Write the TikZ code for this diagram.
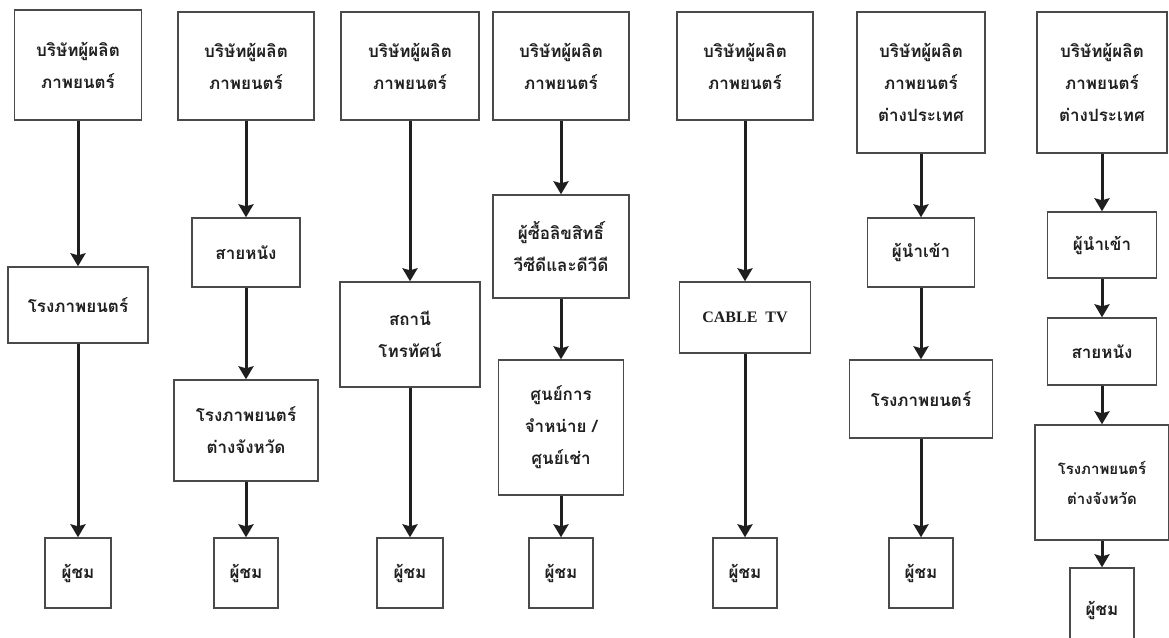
\documentclass[tikz,border=0pt]{standalone}
\usepackage{fontspec}
\usepackage{xcolor}
\usepackage{tikz}
\usetikzlibrary{arrows.meta}
\newfontfamily\thaifont[Script=Thai]{Loma}
\newfontfamily\latinfont{Liberation Serif}
\definecolor{INK}{HTML}{1F1F1F}
\definecolor{EDGE}{HTML}{4A4A4A}

\begin{document}
\begin{tikzpicture}[
  x=1pt, y=-1pt,
  font=\thaifont\bfseries\fontsize{17pt}{32pt}\selectfont,
  box/.style={draw=EDGE, line width=1.4pt, align=center, inner sep=2pt, text=INK},
  arr/.style={-{Stealth[length=13pt, width=15pt, inset=2pt]}, draw=INK, line width=3pt},
]
\useasboundingbox (0,0) rectangle (1169,637);

% column 1
\node[box, minimum width=127, minimum height=110] (prodA) at (78, 65) {บริษัทผู้ผลิต\\ภาพยนตร์};
\node[box, minimum width=140, minimum height=76] (cinemaA) at (78, 305) {โรงภาพยนตร์};
\node[box, minimum width=66, minimum height=70] (viewA) at (78, 573) {ผู้ชม};
\draw[arr] (prodA.south) -- (cinemaA.north);
\draw[arr] (cinemaA.south) -- (viewA.north);

% column 2
\node[box, minimum width=136, minimum height=108] (prodB) at (246, 66) {บริษัทผู้ผลิต\\ภาพยนตร์};
\node[box, minimum width=108, minimum height=69] (lineB) at (246, 252.5) {สายหนัง};
\node[box, minimum width=144, minimum height=101] (provB) at (246, 430.5) {โรงภาพยนตร์\\ต่างจังหวัด};
\node[box, minimum width=64, minimum height=70] (viewB) at (246, 573) {ผู้ชม};
\draw[arr] (prodB.south) -- (lineB.north);
\draw[arr] (lineB.south) -- (provB.north);
\draw[arr] (provB.south) -- (viewB.north);

% column 3
\node[box, minimum width=138, minimum height=108] (prodC) at (410, 66) {บริษัทผู้ผลิต\\ภาพยนตร์};
\node[box, minimum width=140, minimum height=105] (tvC) at (410, 334.5) {สถานี\\โทรทัศน์};
\node[box, minimum width=66, minimum height=70] (viewC) at (410, 573) {ผู้ชม};
\draw[arr] (prodC.south) -- (tvC.north);
\draw[arr] (tvC.south) -- (viewC.north);

% column 4
\node[box, minimum width=136, minimum height=108] (prodD) at (561, 66) {บริษัทผู้ผลิต\\ภาพยนตร์};
\node[box, minimum width=136, minimum height=103] (rightsD) at (561, 246.5) {ผู้ซื้อลิขสิทธิ์\\วีซีดีและดีวีดี};
\node[box, minimum width=125, minimum height=135] (shopD) at (561, 427.5) {ศูนย์การ\\จำหน่าย /\\ศูนย์เช่า};
\node[box, minimum width=64, minimum height=70] (viewD) at (561, 573) {ผู้ชม};
\draw[arr] (prodD.south) -- (rightsD.north);
\draw[arr] (rightsD.south) -- (shopD.north);
\draw[arr] (shopD.south) -- (viewD.north);

% column 5
\node[box, minimum width=136, minimum height=108] (prodE) at (745, 66) {บริษัทผู้ผลิต\\ภาพยนตร์};
\node[box, minimum width=131, minimum height=71, font=\latinfont\bfseries\fontsize{16pt}{20pt}\selectfont] (cableE) at (745, 317.5) {CABLE~~TV};
\node[box, minimum width=64, minimum height=70] (viewE) at (745, 573) {ผู้ชม};
\draw[arr] (prodE.south) -- (cableE.north);
\draw[arr] (cableE.south) -- (viewE.north);

% column 6
\node[box, minimum width=128, minimum height=141] (prodF) at (921, 82.5) {บริษัทผู้ผลิต\\ภาพยนตร์\\ต่างประเทศ};
\node[box, minimum width=107, minimum height=69] (importF) at (921, 252.5) {ผู้นำเข้า};
\node[box, minimum width=143, minimum height=78] (cinemaF) at (921, 399) {โรงภาพยนตร์};
\node[box, minimum width=64, minimum height=70] (viewF) at (921, 573) {ผู้ชม};
\draw[arr] (prodF.south) -- (importF.north);
\draw[arr] (importF.south) -- (cinemaF.north);
\draw[arr] (cinemaF.south) -- (viewF.north);

% column 7
\node[box, minimum width=130, minimum height=141] (prodG) at (1102, 82.5) {บริษัทผู้ผลิต\\ภาพยนตร์\\ต่างประเทศ};
\node[box, minimum width=109, minimum height=66] (importG) at (1102, 245) {ผู้นำเข้า};
\node[box, minimum width=109, minimum height=67] (lineG) at (1102, 351.5) {สายหนัง};
\node[box, minimum width=134, minimum height=115, font=\thaifont\bfseries\fontsize{15pt}{30pt}\selectfont] (provG) at (1102, 482.5) {โรงภาพยนตร์\\ต่างจังหวัด};
\node[box, minimum width=64, minimum height=84] (viewG) at (1102, 610) {ผู้ชม};
\draw[arr] (prodG.south) -- (importG.north);
\draw[arr] (importG.south) -- (lineG.north);
\draw[arr] (lineG.south) -- (provG.north);
\draw[arr] (provG.south) -- (viewG.north);

\end{tikzpicture}
\end{document}
